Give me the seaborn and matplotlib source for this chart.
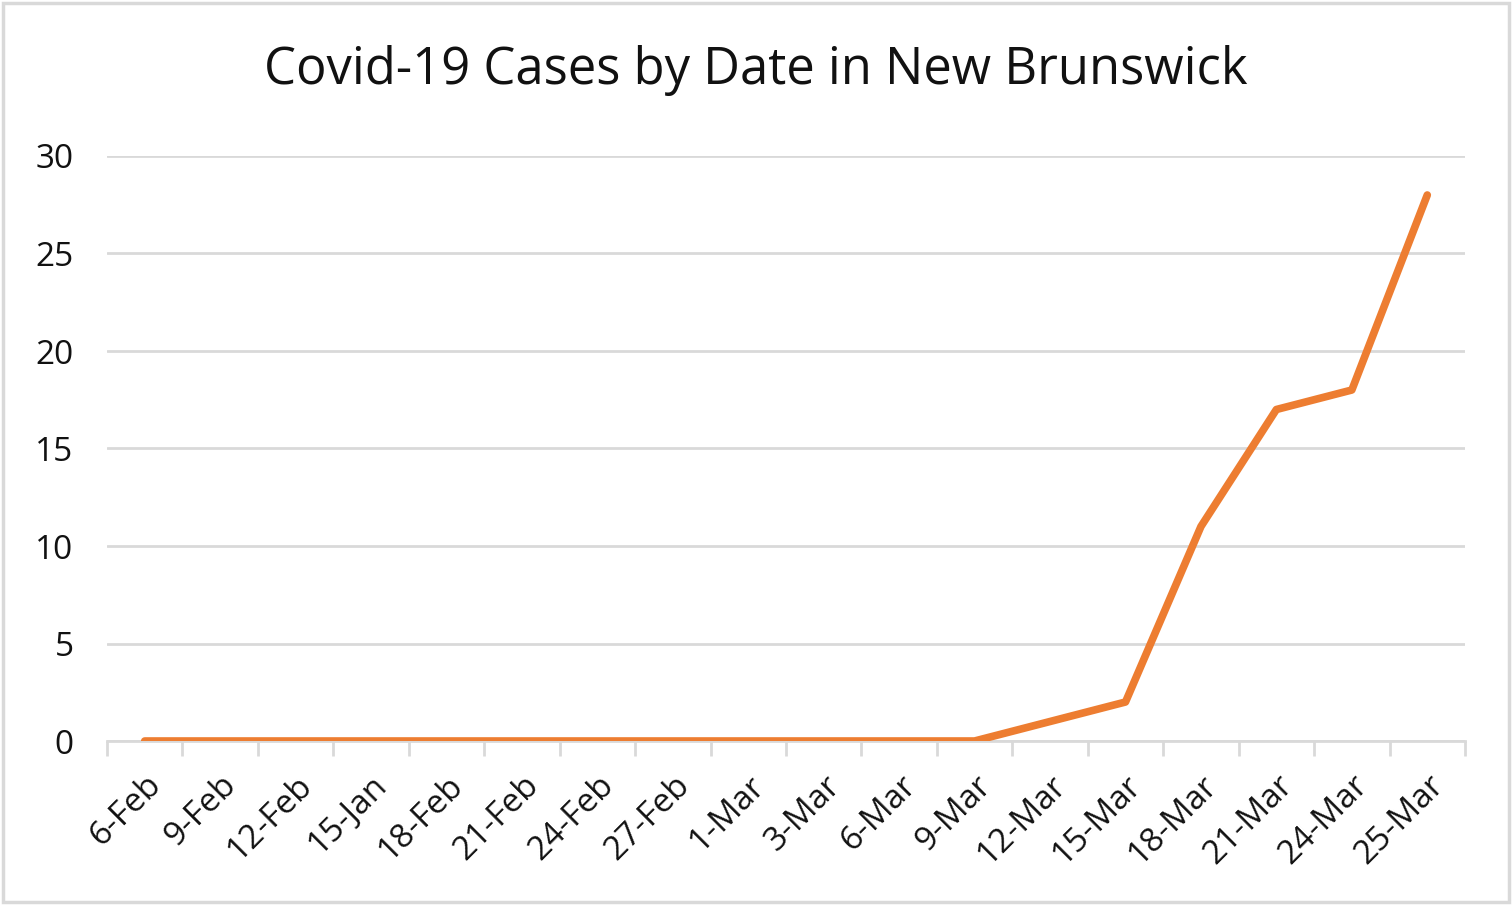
import numpy as np
import pandas as pd
import matplotlib
matplotlib.use("Agg")
import matplotlib.pyplot as plt
from matplotlib.patches import Rectangle
from matplotlib.ticker import FixedLocator
import seaborn as sns

# Data
dates = ["6-Feb", "9-Feb", "12-Feb", "15-Jan", "18-Feb", "21-Feb", "24-Feb",
         "27-Feb", "1-Mar", "3-Mar", "6-Mar", "9-Mar", "12-Mar", "15-Mar",
         "18-Mar", "21-Mar", "24-Mar", "25-Mar"]
cases = [0, 0, 0, 0, 0, 0, 0, 0, 0, 0, 0, 0, 1, 2, 11, 17, 18, 28]
yticks = [0, 5, 10, 15, 20, 25, 30]

df = pd.DataFrame({"date": dates, "cases": cases})

sns.set_style("white")
plt.rcParams["font.family"] = ["Open Sans", "DejaVu Sans"]

fig = plt.figure(figsize=(15.12, 9.05), dpi=100)
ax = fig.add_axes([107 / 1512, 1 - 741 / 905, (1465 - 107) / 1512, (741 - 156) / 905])

sns.lineplot(data=df, x="date", y="cases", ax=ax, color="#ED7D31",
             linewidth=5.5, sort=False, solid_capstyle="round")

grid_c = "#d9d9d9"
ax.set_xlim(-0.5, len(dates) - 0.5)
ax.set_ylim(0, 30)
ax.set_yticks(yticks)
ax.yaxis.grid(True, color=grid_c, linewidth=2)
ax.set_axisbelow(True)
for s in ["top", "right", "left"]:
    ax.spines[s].set_visible(False)
ax.spines["bottom"].set_color(grid_c)
ax.spines["bottom"].set_linewidth(2)
ax.spines["bottom"].set_zorder(1)

ax.set_xticks(range(len(dates)))
ax.set_xticklabels(dates, rotation=45, ha="right", rotation_mode="anchor")
ax.xaxis.set_minor_locator(FixedLocator(np.arange(-0.5, len(dates), 1)))
ax.tick_params(axis="x", which="major", bottom=True, length=0, labelsize=24,
               pad=20, labelcolor="#111111")
ax.tick_params(axis="x", which="minor", bottom=True, length=11, width=2,
               color=grid_c, direction="out")
ax.tick_params(axis="y", length=0, labelsize=24, pad=24, labelcolor="#111111")

ax.set_xlabel("")
ax.set_ylabel("")
fig.text(0.5, 1 - 70 / 905, "Covid-19 Cases by Date in New Brunswick",
         ha="center", va="center", fontsize=36.5, color="#111111")

fig.patches.append(Rectangle((3 / 1512, 3 / 905), 1 - 6 / 1512, 1 - 6 / 905,
                             transform=fig.transFigure, fill=False,
                             edgecolor="#d9d9d9", linewidth=2.5))

fig.savefig("out.png", dpi=100)
